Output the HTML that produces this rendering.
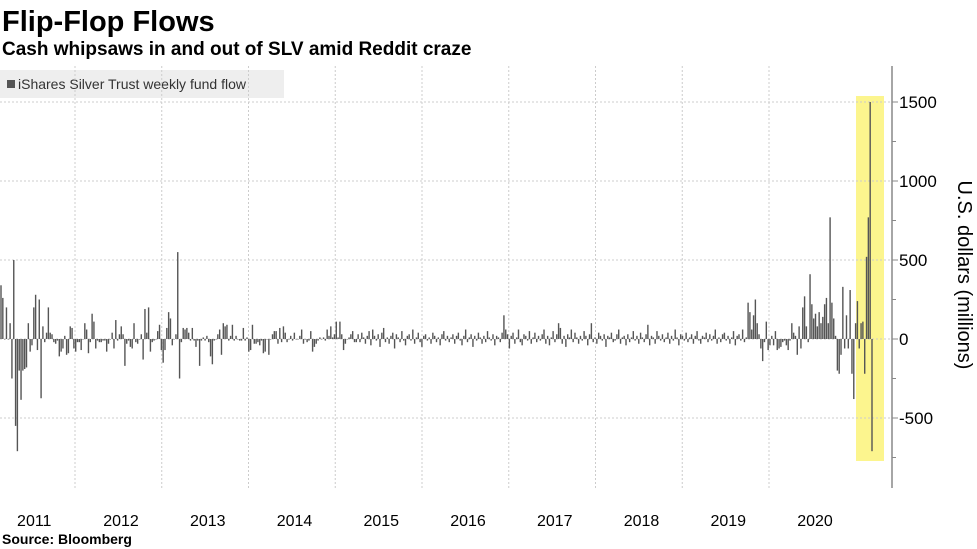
<!DOCTYPE html>
<html><head><meta charset="utf-8"><style>
body{margin:0;background:#fff;width:977px;height:549px;overflow:hidden;font-family:"Liberation Sans",sans-serif}
svg{position:absolute;left:0;top:0}
</style></head><body>
<svg id="c" width="977" height="549">
<text x="2" y="31" font-size="29" font-weight="bold" fill="#000">Flip-Flop Flows</text>
<text x="2" y="55" font-size="19" font-weight="bold" fill="#000">Cash whipsaws in and out of SLV amid Reddit craze</text>
<rect x="0" y="70" width="284" height="28" fill="#eeeeee"/>
<rect x="7" y="80" width="8" height="8" fill="#555"/>
<text x="18" y="89" font-size="14" fill="#333">iShares Silver Trust weekly fund flow</text>
<rect x="856" y="96" width="28" height="365" fill="#fbf37a" opacity="0.85"/>
<g id="grid"></g><g id="bars"></g><g id="axis"></g>
<text x="0" y="0" font-size="20" fill="#000" transform="translate(958,275) rotate(90)" text-anchor="middle">U.S. dollars (millions)</text>
<text x="2" y="544" font-size="14" font-weight="bold" fill="#000">Source: Bloomberg</text>
</svg>
<script>
const years=["2011","2012","2013","2014","2015","2016","2017","2018","2019","2020"];
const yTicks=[-500,0,500,1000,1500];
const flows=[340,260,0,200,0,100,-250,500,-550,-710,-200,-385,-200,-190,-180,100,-80,-40,200,280,-70,250,-375,80,-20,40,200,40,30,-20,-30,-10,-110,-80,-60,20,-100,-90,80,70,-60,-80,-20,-20,-70,0,100,60,-90,-20,160,110,
-60,-10,-20,-20,-10,-10,-80,-30,0,40,-60,120,-10,30,80,30,-170,-30,-10,-50,-60,100,-20,-30,0,30,-130,190,40,200,-80,-20,-10,0,50,90,-70,-150,-70,70,170,130,-40,0,30,550,-250,-20,70,60,70,40,-10,70,-10,-50,-10,-170,-10,10,-10,20,-20,-110,-160,-10,0,30,60,-100,100,80,90,-10,20,90,-10,20,0,-10,-10,70,-10,10,-80,-70,90,-30,-30,-20,-40,-10,-90,-80,0,-100,0,30,50,50,-30,70,-20,80,40,-20,0,20,-10,40,0,0,20,60,-30,0,-20,-10,50,-80,-50,-30,-10,10,0,10,-10,60,20,80,10,30,110,10,110,30,-70,-30,0,10,30,50,-20,-20,
30,-20,40,10,-30,20,50,-40,60,20,-10,30,-50,40,70,-20,10,-30,20,40,-60,30,10,-20,50,-10,-40,20,30,-10,60,-30,10,40,-20,-50,20,30,-10,10,-30,40,20,-20,10,-40,30,50,-10,20,
-20,10,30,-30,20,40,-10,-40,20,60,-20,10,30,-50,20,-10,40,10,-30,20,-20,50,10,-10,30,-40,20,10,-20,40,150,60,30,-60,20,40,-30,10,60,-20,-40,30,20,-10,50,-30,10,40,-20,20,
-10,30,60,-30,20,-40,10,50,-20,30,100,70,-30,20,-50,30,10,60,-20,40,10,-30,20,-10,50,20,-40,30,100,-20,10,-30,40,20,-10,30,-50,20,10,40,-20,-10,30,60,-30,10,20,-40,
30,-20,10,50,-10,20,-30,40,10,-20,30,90,-40,20,10,-30,50,20,-10,30,-20,10,40,-30,20,-10,60,10,-40,30,20,-10,40,-20,10,30,-30,20,50,-10,-30,20,10,40,-20,30,-10,20,60,-30,
10,-20,30,40,-10,20,-30,10,50,-40,20,30,-10,60,-20,10,230,170,60,150,250,100,30,-60,-140,-20,110,-70,-40,20,-40,50,-70,-60,-50,-20,-10,-40,-70,-10,100,40,20,-100,80,-60,
200,270,80,-20,410,220,130,160,80,170,100,140,220,260,100,770,230,130,20,-200,-220,-100,330,-60,150,-60,310,-220,-380,100,240,-60,100,110,-220,520,770,1500,-710];
const NS="http://www.w3.org/2000/svg";
const X0=1,X1=872,Y0=339,PX=237/1500,PLOT_R=892;
const wk=(X1-X0)/(flows.length-1);
const xScale=i=>X0+i*wk;
const yScale=v=>Y0-v*PX;
const yearX=k=>75+86.75*(k-1);
function mk(tag,attrs,parent){const e=document.createElementNS(NS,tag);for(const k in attrs)e.setAttribute(k,attrs[k]);document.getElementById(parent).appendChild(e);return e;}
for(let k=0;k<years.length;k++){
  if(k>0){const g=mk('line',{x1:yearX(k),x2:yearX(k),y1:66,y2:488,stroke:'#ccc','stroke-dasharray':'2,2'},'grid');
  
  }
  const t=mk('text',{x:yearX(k)+46,y:526,'font-size':16,'text-anchor':'middle',fill:'#000'},'axis');
  t.textContent=years[k];
  
  
}
yTicks.forEach(v=>{
  const g=mk('line',{x1:0,x2:PLOT_R,y1:yScale(v),y2:yScale(v),stroke:'#ccc','stroke-dasharray':'2,2'},'grid');
  
  
  const tk=mk('line',{x1:PLOT_R,x2:PLOT_R+6,y1:yScale(v),y2:yScale(v),stroke:'#888'},'axis');
  
  
  const t=mk('text',{x:PLOT_R+7,y:yScale(v)+6,'font-size':17,fill:'#000'},'axis');
  t.textContent=v;
  
  
});
[-750,-250,250,750,1250].forEach(v=>{
  const tk=mk('line',{x1:PLOT_R,x2:PLOT_R+4,y1:yScale(v),y2:yScale(v),stroke:'#888'},'axis');
  
  
});
const ax=mk('line',{x1:PLOT_R,x2:PLOT_R,y1:66,y2:488,stroke:'#888','stroke-width':1.5},'axis');


flows.forEach((v,i)=>{
  const y=Math.min(yScale(v),Y0),h=Math.max(Math.abs(yScale(v)-Y0),0.5);
  const r=mk('rect',{x:xScale(i)-0.7,y:y,width:1.4,height:h,fill:'#555'},'bars');
  
  
});
</script>
</body></html>
